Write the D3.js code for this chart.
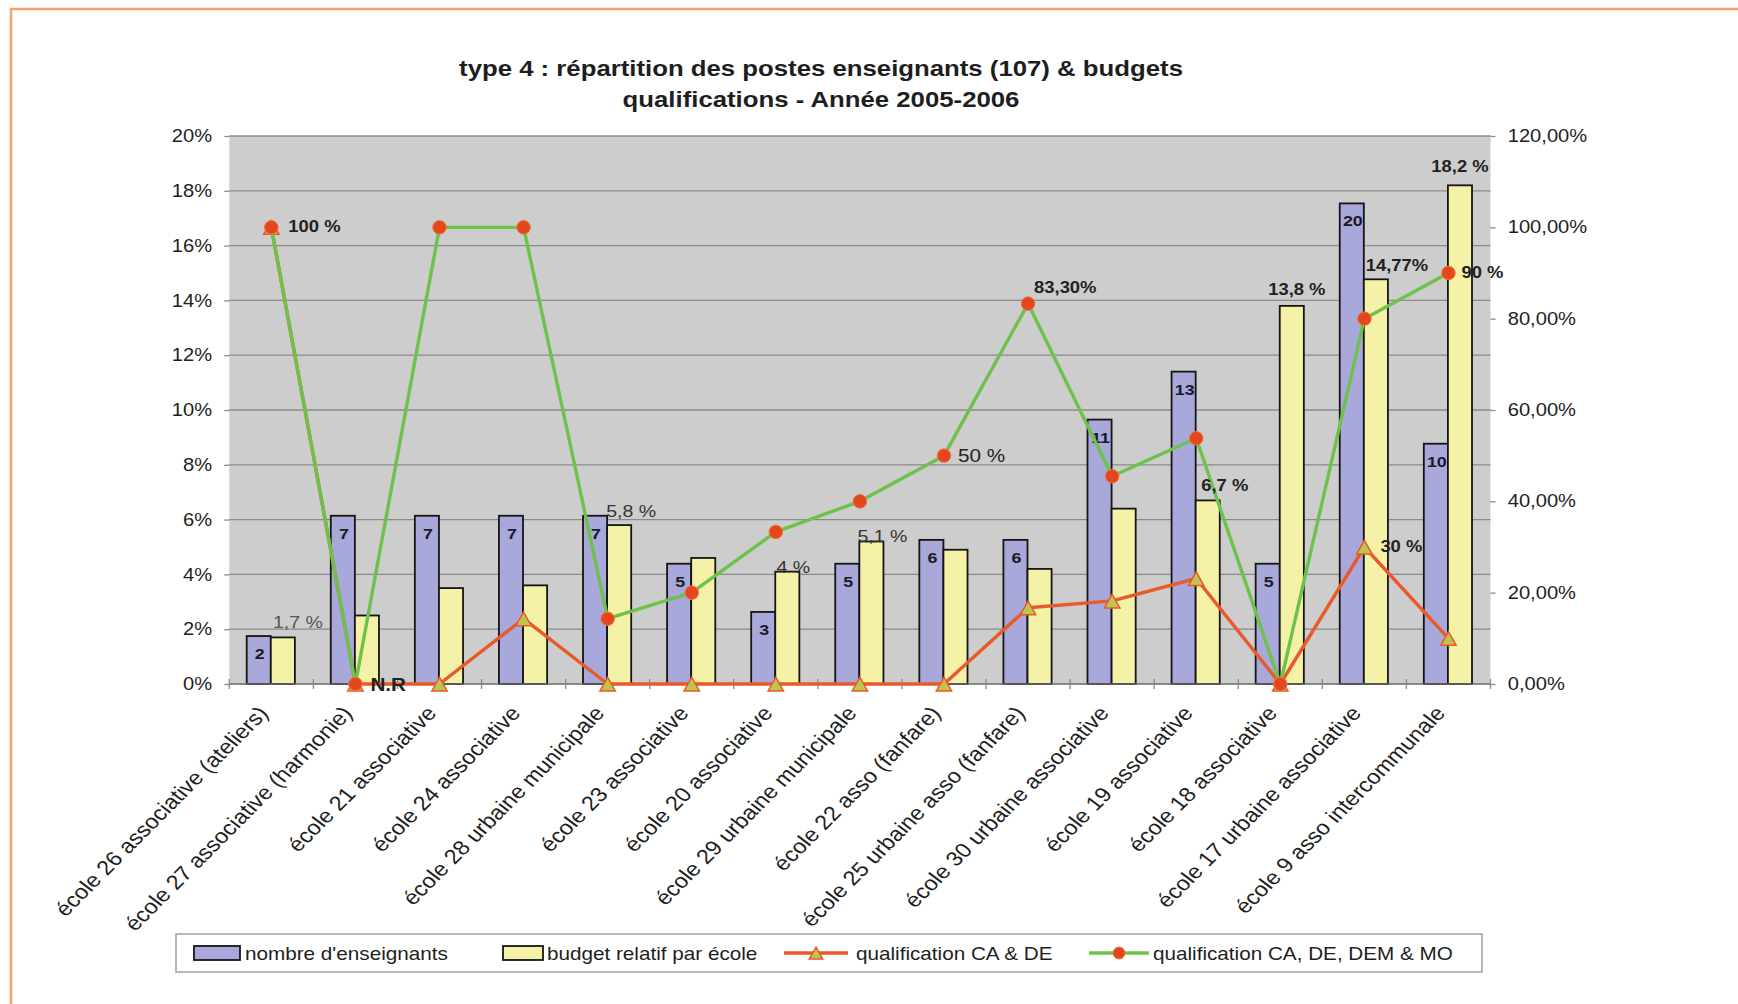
<!DOCTYPE html>
<html><head><meta charset="utf-8">
<script src="https://cdn.jsdelivr.net/npm/d3@7"></script>
<style>
body{margin:0;background:#fff}
svg{display:block}
text{font-family:"Liberation Sans",Arial,sans-serif;fill:#1e1e1e}
</style>
</head><body>
<svg id="c" width="1738" height="1004"></svg>
<script>
// ---------------- data ----------------
const categories = [
  "école 26 associative (ateliers)", "école 27 associative (harmonie)", "école 21 associative",
  "école 24 associative", "école 28 urbaine municipale", "école 23 associative",
  "école 20 associative", "école 29 urbaine municipale", "école 22 asso (fanfare)",
  "école 25 urbaine asso (fanfare)", "école 30 urbaine associative", "école 19 associative",
  "école 18 associative", "école 17 urbaine associative", "école 9 asso intercommunale"
];
const teacherCounts = [2, 7, 7, 7, 7, 5, 3, 5, 6, 6, 11, 13, 5, 20, 10];
const teacherShare  = [1.75, 6.14, 6.14, 6.14, 6.14, 4.39, 2.63, 4.39, 5.26, 5.26, 9.65, 11.4, 4.39, 17.54, 8.77];
const budgetShare   = [1.7, 2.5, 3.5, 3.6, 5.8, 4.6, 4.1, 5.2, 4.9, 4.2, 6.4, 6.7, 13.8, 14.77, 18.2];
const qualCADE      = [100, 0, 0, 14.3, 0, 0, 0, 0, 0, 16.7, 18.2, 23.1, 0, 30, 10];
const qualAll       = [100, 0, 100, 100, 14.3, 20, 33.3, 40, 50, 83.3, 45.5, 53.8, 0, 80, 90];

const leftTickValues  = [0, 2, 4, 6, 8, 10, 12, 14, 16, 18, 20];
const leftTickLabels  = ["0%", "2%", "4%", "6%", "8%", "10%", "12%", "14%", "16%", "18%", "20%"];
const rightTickValues = [0, 20, 40, 60, 80, 100, 120];
const rightTickLabels = ["0,00%", "20,00%", "40,00%", "60,00%", "80,00%", "100,00%", "120,00%"];

const titleLines = ["type 4 : répartition des postes enseignants (107) & budgets",
                    "qualifications - Année 2005-2006"];
const seriesNames = ["nombre d'enseignants", "budget relatif par école",
                     "qualification CA & DE", "qualification CA, DE, DEM & MO"];

// annotations (index, text)
const budgetLabels = [
  {i: 0, text: "1,7 %", bold: false, dx: 15, dy: -9, size: 17, color: "#555"},
  {i: 4, text: "5,8 %", bold: false, dx: 12, dy: -8, size: 17, color: "#333"},
  {i: 6, text: "4 %", bold: false, dx: 6, dy: 1, size: 17, color: "#333"},
  {i: 7, text: "5,1 %", bold: false, dx: 11, dy: 0, size: 17, color: "#333"},
  {i: 11, text: "6,7 %", bold: true, dx: 17, dy: -9, size: 16, color: "#222"},
  {i: 12, text: "13,8 %", bold: true, dx: 5, dy: -11, size: 16, color: "#222"},
  {i: 13, text: "14,77%", bold: true, dx: 21, dy: -8, size: 16, color: "#222"},
  {i: 14, text: "18,2 %", bold: true, dx: 0, dy: -13, size: 16, color: "#222"}
];
const allLabels = [
  {i: 0, text: "100 %", bold: true, dx: 17, dy: 5, size: 16},
  {i: 1, text: "N.R", bold: true, dx: 15, dy: 7, size: 18},
  {i: 8, text: "50 %", bold: false, dx: 14, dy: 6, size: 18},
  {i: 9, text: "83,30%", bold: true, dx: 6, dy: -11, size: 16},
  {i: 14, text: "90 %", bold: true, dx: 13, dy: 5, size: 16}
];
const cadeLabels = [
  {i: 13, text: "30 %", bold: true, dx: 16, dy: 5, size: 16}
];

// ---------------- layout ----------------
const SX = 1.15; // horizontal stretch of the original picture's text
const M = {left: 229.3, right: 1490.5, top: 136, bottom: 684};
const C = {
  blue: "#a8a8da", yellow: "#f5f2a8", plot: "#cdcdcd", grid: "#8a8a8a",
  red: "#e95a2b", green: "#6cc24b", dot: "#e4461e", tri: "#bcc64e", border: "#f2a266"
};

const svg = d3.select("#c");

// page border (orange)
svg.append("path").attr("d", "M11,1004 V9 H1738")
  .attr("fill", "none").attr("stroke", C.border).attr("stroke-width", 2.5);

const x0 = d3.scaleBand().domain(categories).range([M.left, M.right]).padding(0);
const bw = x0.bandwidth();
const x1 = d3.scaleBand().domain(["teachers", "budget"]).range([bw * 0.207, bw * 0.78]).padding(0);
const yL = d3.scaleLinear().domain([0, 20]).range([M.bottom, M.top]);
const yR = d3.scaleLinear().domain([0, 120]).range([M.bottom, M.top]);
const cx = i => x0(categories[i]) + bw / 2;

function stext(g, x, y, s, o = {}) {
  return g.append("text")
    .attr("transform", `translate(${x},${y}) scale(${SX},1)`)
    .attr("text-anchor", o.anchor || "start")
    .attr("font-size", o.size || 16)
    .attr("font-weight", o.bold ? "bold" : "normal")
    .style("fill", o.color || "#1e1e1e")
    .text(s);
}

// title
titleLines.forEach((t, k) => stext(svg, 821, 76 + k * 31, t, {anchor: "middle", size: 22.4, bold: true}));

// plot area
svg.append("rect").attr("x", M.left).attr("y", M.top)
  .attr("width", M.right - M.left).attr("height", M.bottom - M.top).attr("fill", C.plot);

// gridlines
svg.append("g").selectAll("line").data(leftTickValues.slice(1)).join("line")
  .attr("x1", M.left).attr("x2", M.right)
  .attr("y1", d => yL(d)).attr("y2", d => yL(d))
  .attr("stroke", C.grid).attr("stroke-width", 1.3);

// left axis
const gL = svg.append("g").attr("transform", `translate(${M.left},0)`)
  .call(d3.axisLeft(yL).tickValues(leftTickValues).tickFormat((d, i) => leftTickLabels[i])
    .tickSize(5).tickPadding(10));
gL.select(".domain").remove();
gL.selectAll(".tick line").attr("stroke", C.grid).attr("stroke-width", 1.3);
gL.selectAll(".tick text").attr("font-size", 17.5).attr("transform", `scale(${SX},1)`)
  .style("fill", "#1e1e1e").attr("font-family", null);

// right axis
const gR = svg.append("g").attr("transform", `translate(${M.right},0)`)
  .call(d3.axisRight(yR).tickValues(rightTickValues).tickFormat((d, i) => rightTickLabels[i])
    .tickSize(5).tickPadding(10));
gR.select(".domain").remove();
gR.selectAll(".tick line").attr("stroke", C.grid).attr("stroke-width", 1.3);
gR.selectAll(".tick text").attr("font-size", 17.5).attr("transform", `scale(${SX},1)`)
  .style("fill", "#1e1e1e").attr("font-family", null);

// bars
const gBars = svg.append("g");
categories.forEach((c, i) => {
  gBars.append("rect")
    .attr("x", x0(c) + x1("teachers")).attr("y", yL(teacherShare[i]))
    .attr("width", x1.bandwidth()).attr("height", yL(0) - yL(teacherShare[i]))
    .attr("fill", C.blue).attr("stroke", "#151515").attr("stroke-width", 1.8);
  gBars.append("rect")
    .attr("x", x0(c) + x1("budget")).attr("y", yL(budgetShare[i]))
    .attr("width", x1.bandwidth()).attr("height", yL(0) - yL(budgetShare[i]))
    .attr("fill", C.yellow).attr("stroke", "#151515").attr("stroke-width", 1.8);
});

// baseline + category ticks
svg.append("line").attr("x1", M.left).attr("x2", M.right)
  .attr("y1", yL(0)).attr("y2", yL(0)).attr("stroke", "#6a6a6a").attr("stroke-width", 1.5);
svg.append("g").selectAll("line").data(categories.concat([null])).join("line")
  .attr("x1", (d, i) => i < categories.length ? x0(d) : M.right)
  .attr("x2", (d, i) => i < categories.length ? x0(d) : M.right)
  .attr("y1", yL(0) - 5).attr("y2", yL(0) + 5)
  .attr("stroke", C.grid).attr("stroke-width", 1.3);

// count labels inside blue bars
categories.forEach((c, i) => {
  stext(svg, x0(c) + x1("teachers") + x1.bandwidth() / 2 + 1, yL(teacherShare[i]) + 23,
    String(teacherCounts[i]), {anchor: "middle", size: 15.5, bold: true, color: "#1a1a2a"});
});

// lines
const line = d3.line().x((d, i) => cx(i)).y(d => yR(d));
const triangle = {
  draw(ctx, size) {
    const r = Math.sqrt(size) / 2;
    ctx.moveTo(0, -r * 0.95);
    ctx.lineTo(r * 1.1, r);
    ctx.lineTo(-r * 1.1, r);
    ctx.closePath();
  }
};
svg.append("path").datum(qualCADE).attr("d", line)
  .attr("fill", "none").attr("stroke", C.red).attr("stroke-width", 3.4).attr("stroke-linejoin", "round");
svg.append("g").selectAll("path").data(qualCADE).join("path")
  .attr("transform", (d, i) => `translate(${cx(i)},${yR(d)})`)
  .attr("d", d3.symbol(triangle, 196))
  .attr("fill", C.tri).attr("stroke", C.red).attr("stroke-width", 1.5);

svg.append("path").datum(qualAll).attr("d", line)
  .attr("fill", "none").attr("stroke", C.green).attr("stroke-width", 3.4).attr("stroke-linejoin", "round");
svg.append("g").selectAll("circle").data(qualAll).join("circle")
  .attr("cx", (d, i) => cx(i)).attr("cy", d => yR(d)).attr("r", 6.8)
  .attr("fill", C.dot).attr("stroke", "#ee7a3a").attr("stroke-width", 1);

// value labels
budgetLabels.forEach(l => {
  stext(svg, x0(categories[l.i]) + x1("budget") + x1.bandwidth() / 2 + l.dx, yL(budgetShare[l.i]) + l.dy,
    l.text, {anchor: "middle", size: l.size, bold: l.bold, color: l.color});
});
allLabels.forEach(l => {
  stext(svg, cx(l.i) + l.dx, yR(qualAll[l.i]) + l.dy, l.text, {size: l.size, bold: l.bold, color: "#222"});
});
cadeLabels.forEach(l => {
  stext(svg, cx(l.i) + l.dx, yR(qualCADE[l.i]) + l.dy, l.text, {size: l.size, bold: l.bold, color: "#222"});
});

// x category labels (rotated)
svg.append("g").selectAll("text").data(categories).join("text")
  .attr("transform", (d, i) => `translate(${cx(i) - 2},${yL(0) + 30}) scale(${SX},1) rotate(-49)`)
  .attr("text-anchor", "end").attr("font-size", 20.5)
  .text(d => d);

// legend
const gLeg = svg.append("g");
gLeg.append("rect").attr("x", 176).attr("y", 934).attr("width", 1306).attr("height", 38)
  .attr("fill", "none").attr("stroke", "#a0a0a0").attr("stroke-width", 1.5);
const legY = 953;
gLeg.append("rect").attr("x", 194).attr("y", legY - 7).attr("width", 46).attr("height", 14)
  .attr("fill", C.blue).attr("stroke", "#151515").attr("stroke-width", 1.8);
stext(gLeg, 245, legY + 7, seriesNames[0], {size: 18});
gLeg.append("rect").attr("x", 503).attr("y", legY - 7).attr("width", 40).attr("height", 14)
  .attr("fill", C.yellow).attr("stroke", "#151515").attr("stroke-width", 1.8);
stext(gLeg, 547, legY + 7, seriesNames[1], {size: 18});
gLeg.append("line").attr("x1", 784).attr("x2", 848).attr("y1", legY).attr("y2", legY)
  .attr("stroke", C.red).attr("stroke-width", 3.4);
gLeg.append("path").attr("transform", `translate(816,${legY})`).attr("d", d3.symbol(triangle, 150))
  .attr("fill", C.tri).attr("stroke", C.red).attr("stroke-width", 1.5);
stext(gLeg, 856, legY + 7, seriesNames[2], {size: 18});
gLeg.append("line").attr("x1", 1089).attr("x2", 1149).attr("y1", legY).attr("y2", legY)
  .attr("stroke", C.green).attr("stroke-width", 3.4);
gLeg.append("circle").attr("cx", 1119).attr("cy", legY).attr("r", 6)
  .attr("fill", C.dot).attr("stroke", "#ee7a3a").attr("stroke-width", 1);
stext(gLeg, 1153, legY + 7, seriesNames[3], {size: 18});
</script>
</body></html>
